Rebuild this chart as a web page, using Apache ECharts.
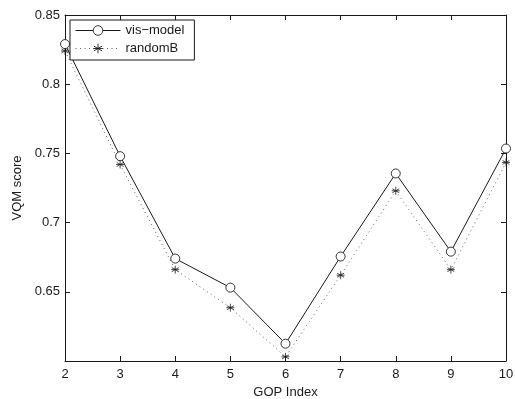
<!DOCTYPE html>
<html>
<head>
<meta charset="utf-8">
<script src="https://cdn.jsdelivr.net/npm/echarts@6/dist/echarts.min.js"></script>
<style>
  html, body { margin: 0; padding: 0; background: #fff; }
  #chart { width: 515px; height: 399px; }
</style>
</head>
<body>
<div id="chart"></div>
<script>
// GOP indices along the x axis
var gopIndex = [2, 3, 4, 5, 6, 7, 8, 9, 10];
// VQM scores per GOP for each method
var visModel = [0.829, 0.748, 0.674, 0.653, 0.6125, 0.6755, 0.7355, 0.679, 0.7535];
var randomB  = [0.824, 0.742, 0.666, 0.6385, 0.603, 0.662, 0.723, 0.666, 0.7435];
// Axis ticks
var yTicks = [0.65, 0.7, 0.75, 0.8, 0.85];

function pairs(xs, ys) {
  return xs.map(function (x, i) { return [x, ys[i]]; });
}

var ink = '#1a1a1a';
var markInk = '#1e1e1e';
var font = 'Liberation Sans, Arial, Helvetica, sans-serif';
var fs = 13;
var asterisk = 'path://M0,-10L0,10M-8.66,-5L8.66,5M-8.66,5L8.66,-5M-10,0L10,0';

var chart = echarts.init(document.getElementById('chart'), null, { renderer: 'canvas' });

var boxAxis = {
  axisLine: { show: true, lineStyle: { color: ink, width: 1 } },
  axisTick: { show: true, inside: true, length: 5, lineStyle: { color: ink, width: 1 } },
  splitLine: { show: false }
};

chart.setOption({
  animation: false,
  backgroundColor: '#fff',
  textStyle: { fontFamily: font },
  grid: { left: 65, right: 9, top: 15, bottom: 38, containLabel: false, outerBoundsMode: 'none' },
  legend: {
    left: 70, top: 20,
    orient: 'vertical',
    itemWidth: 45, itemHeight: 12, itemGap: 5,
    padding: [4, 10, 5, 5],
    borderColor: ink, borderWidth: 1, borderRadius: 0,
    backgroundColor: '#fff',
    lineStyle: { width: 1 },
    itemStyle: { borderWidth: 0.9 },
    textStyle: { color: ink, fontSize: fs, fontFamily: font },
    data: ['vis\u2212model', 'randomB']
  },
  xAxis: [
    Object.assign({
      type: 'value', min: 2, max: 10, interval: 1,
      name: 'GOP Index', nameLocation: 'middle', nameGap: 22,
      nameTextStyle: { color: ink, fontSize: fs, fontFamily: font },
      axisLabel: { color: ink, fontSize: fs, margin: 7, fontFamily: font }
    }, boxAxis),
    Object.assign({
      type: 'value', min: 2, max: 10, interval: 1, position: 'top',
      axisLabel: { show: false }
    }, boxAxis)
  ],
  yAxis: [
    Object.assign({
      type: 'value', min: 0.6, max: 0.85, interval: 0.05,
      name: 'VQM score', nameLocation: 'middle', nameGap: 34, nameRotate: 90,
      nameTextStyle: { color: ink, fontSize: fs, fontFamily: font },
      axisLabel: {
        color: ink, fontSize: fs, margin: 5, fontFamily: font,
        formatter: function (v) {
          var r = Math.round(v * 100) / 100;
          return yTicks.indexOf(r) >= 0 ? String(r) : '';
        }
      }
    }, boxAxis),
    Object.assign({
      type: 'value', min: 0.6, max: 0.85, interval: 0.05, position: 'right',
      axisLabel: { show: false }
    }, boxAxis)
  ],
  series: [
    {
      name: 'vis\u2212model',
      type: 'line',
      data: pairs(gopIndex, visModel),
      symbol: 'circle',
      symbolSize: 9,
      showAllSymbol: true,
      lineStyle: { color: ink, width: 1 },
      itemStyle: { color: '#fff', borderColor: markInk, borderWidth: 0.9 },
      z: 3
    },
    {
      name: 'randomB',
      type: 'line',
      data: pairs(gopIndex, randomB),
      symbol: asterisk,
      symbolSize: 8,
      symbolKeepAspect: true,
      showAllSymbol: true,
      lineStyle: { color: '#666', width: 1, type: [1, 3.5] },
      itemStyle: { color: markInk, borderColor: markInk, borderWidth: 0.8 },
      z: 2
    }
  ]
});
</script>
</body>
</html>
